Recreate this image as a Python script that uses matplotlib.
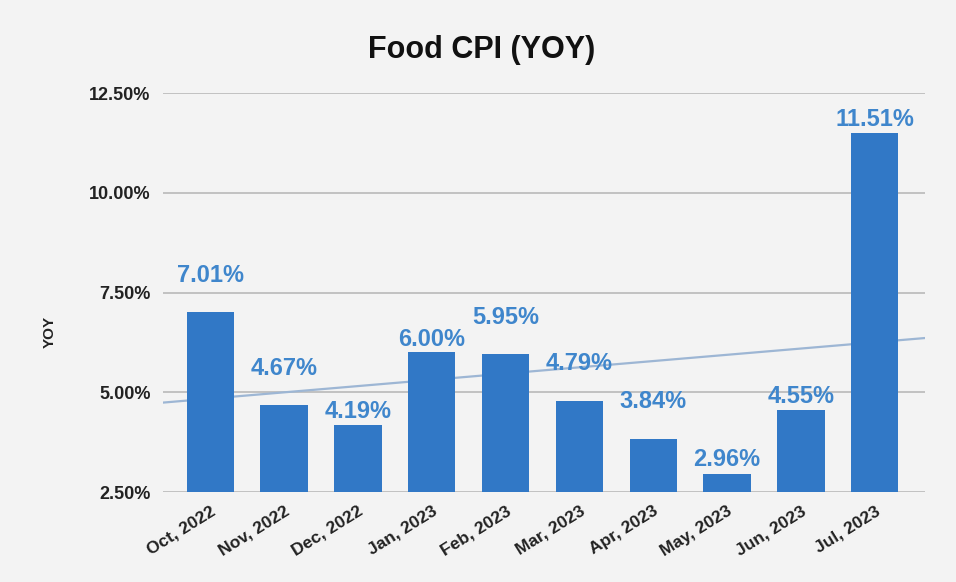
import numpy as np
import matplotlib.pyplot as plt

months = ['Oct, 2022', 'Nov, 2022', 'Dec, 2022', 'Jan, 2023', 'Feb, 2023',
          'Mar, 2023', 'Apr, 2023', 'May, 2023', 'Jun, 2023', 'Jul, 2023']
yoy = [7.01, 4.67, 4.19, 6.00, 5.95, 4.79, 3.84, 2.96, 4.55, 11.51]
y_ticks = [2.5, 5.0, 7.5, 10.0, 12.5]

# how far each data label sits above its bar (pixels), as in the original
label_lift = [37, 37, 13, 13, 37, 37, 37, 14, 14, 13]

BG = '#f3f3f3'
BAR = '#3178c6'
LABEL = '#3f86cc'
TREND = '#9db6d4'


def plot_chart():
    plt.rcParams['font.family'] = ['Liberation Sans', 'DejaVu Sans']
    fig = plt.figure(figsize=(9.56, 5.82), dpi=100, facecolor=BG)
    ax = fig.add_axes([0.1705, 0.1546, 0.797, 0.6856], facecolor=BG)

    x = np.arange(len(months))
    ax.bar(x, yoy, width=0.64, color=BAR, zorder=3)

    # linear trendline through the bars
    slope, intercept = np.polyfit(x, yoy, 1)
    xl = np.array([-0.64, 9.68])
    ax.plot(xl, slope * xl + intercept, color=TREND, lw=1.6, zorder=2)

    for xi, v, lift in zip(x, yoy, label_lift):
        ax.annotate(f'{v:.2f}%', (xi, v), xytext=(0, lift * 0.72),
                    textcoords='offset points', ha='center', va='center',
                    color=LABEL, fontsize=17, fontweight='bold', zorder=4)

    ax.set_xlim(-0.64, 9.68)
    ax.set_ylim(2.5, 12.5)
    ax.set_yticks(y_ticks)
    ax.set_yticklabels([f'{t:.2f}%' for t in y_ticks], fontsize=13,
                       fontweight='bold', color='#222222')
    ax.set_xticks(x)
    ax.set_xticklabels(months, rotation=32, ha='right', rotation_mode='anchor',
                       fontsize=12.5, fontweight='bold', color='#222222')
    ax.tick_params(axis='both', length=0)
    ax.tick_params(axis='y', pad=9)
    ax.tick_params(axis='x', pad=8)
    ax.grid(axis='y', color='#b4b4b4', lw=1.1, zorder=0)
    for s in ax.spines.values():
        s.set_visible(False)

    fig.text(0.052, 0.43, 'YOY', rotation=90, ha='center', va='center',
             fontsize=11, fontweight='bold', color='#222222')
    fig.text(0.504, 0.914, 'Food CPI (YOY)', ha='center', va='center',
             fontsize=22, fontweight='bold', color='#111111')

    fig.savefig('out.png', dpi=100, facecolor=BG)


if __name__ == '__main__':
    plot_chart()
